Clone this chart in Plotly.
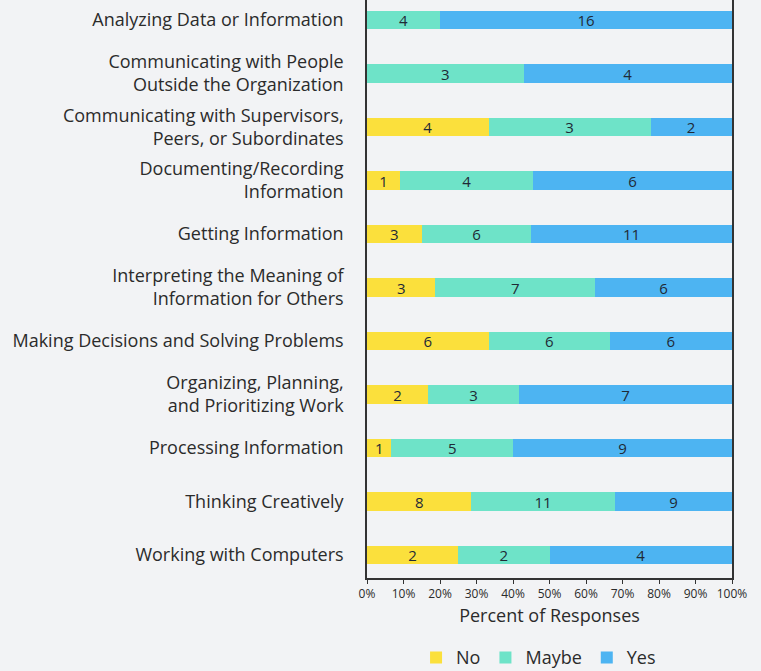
import plotly.graph_objects as go

categories = [
    "Analyzing Data or Information",
    "Communicating with People<br>Outside the Organization",
    "Communicating with Supervisors,<br>Peers, or Subordinates",
    "Documenting/Recording<br>Information",
    "Getting Information",
    "Interpreting the Meaning of<br>Information for Others",
    "Making Decisions and Solving Problems",
    "Organizing, Planning,<br>and Prioritizing Work",
    "Processing Information",
    "Thinking Creatively",
    "Working with Computers",
]

# counts shown as labels
no_counts = [0, 0, 4, 1, 3, 3, 6, 2, 1, 8, 2]
maybe_counts = [4, 3, 3, 4, 6, 7, 6, 3, 5, 11, 2]
yes_counts = [16, 4, 2, 6, 11, 6, 6, 7, 9, 9, 4]

# bar widths (percent of responses)
no_pct = [0, 0, 33.3, 9.1, 15.0, 18.75, 33.3, 16.7, 6.7, 28.6, 25.0]
maybe_pct = [20.0, 42.9, 44.4, 36.4, 30.0, 43.75, 33.3, 25.0, 33.3, 39.3, 25.0]
yes_pct = [80.0, 57.1, 22.2, 54.5, 55.0, 37.5, 33.3, 58.3, 60.0, 32.1, 50.0]

series = [
    ("No", no_pct, no_counts, "#fbe03c"),
    ("Maybe", maybe_pct, maybe_counts, "#6ee3c8"),
    ("Yes", yes_pct, yes_counts, "#4db4f2"),
]

FONT = "Open Sans"
fig = go.Figure()
for name, pct, cnt, col in series:
    fig.add_trace(go.Bar(
        y=categories, x=pct, name=name, orientation="h",
        marker=dict(color=col, line=dict(width=0)),
        text=[str(c) if c else "" for c in cnt],
        textposition="inside", insidetextanchor="middle", textangle=0,
        textfont=dict(family=FONT, size=15, color="#1f2a36"),
        width=0.345, hoverinfo="skip",
    ))

fig.update_layout(
    barmode="stack",
    width=761, height=671,
    margin=dict(l=367, r=29, t=0, b=93, autoexpand=False),
    paper_bgcolor="#f2f3f5", plot_bgcolor="#f2f3f5",
    font=dict(family=FONT, color="#2b2b2b"),
    showlegend=True,
    uniformtext=dict(minsize=15, mode="show"),
    legend=dict(orientation="h", x=0.47, xanchor="center", y=-0.138, yanchor="middle",
                font=dict(size=18, color="#2b2b2b"), traceorder="normal",
                itemwidth=30, bgcolor="rgba(0,0,0,0)"),
)
fig.update_xaxes(
    range=[0, 100], tickvals=[0, 10, 20, 30, 40, 50, 60, 70, 80, 90, 100],
    ticktext=[f"{v}%" for v in range(0, 101, 10)],
    tickfont=dict(size=12, color="#2b2b2b"),
    showgrid=False, zeroline=False, showline=True, linecolor="#333333", linewidth=1.5,
    ticks="outside", ticklen=4, tickcolor="#333333", automargin=False,
    title=dict(text="Percent of Responses", font=dict(size=18, color="#2b2b2b"), standoff=8),
)
fig.update_yaxes(
    range=[10.43, -0.374], showgrid=False, zeroline=False,
    showline=True, mirror=True, linecolor="#333333", linewidth=1.5,
    ticks="", ticklabelstandoff=18, automargin=False,
    tickfont=dict(size=18, color="#2b2b2b"),
)

fig.write_html("out.html", config={"displayModeBar": False},
               post_script="document.body.style.margin='0';")
